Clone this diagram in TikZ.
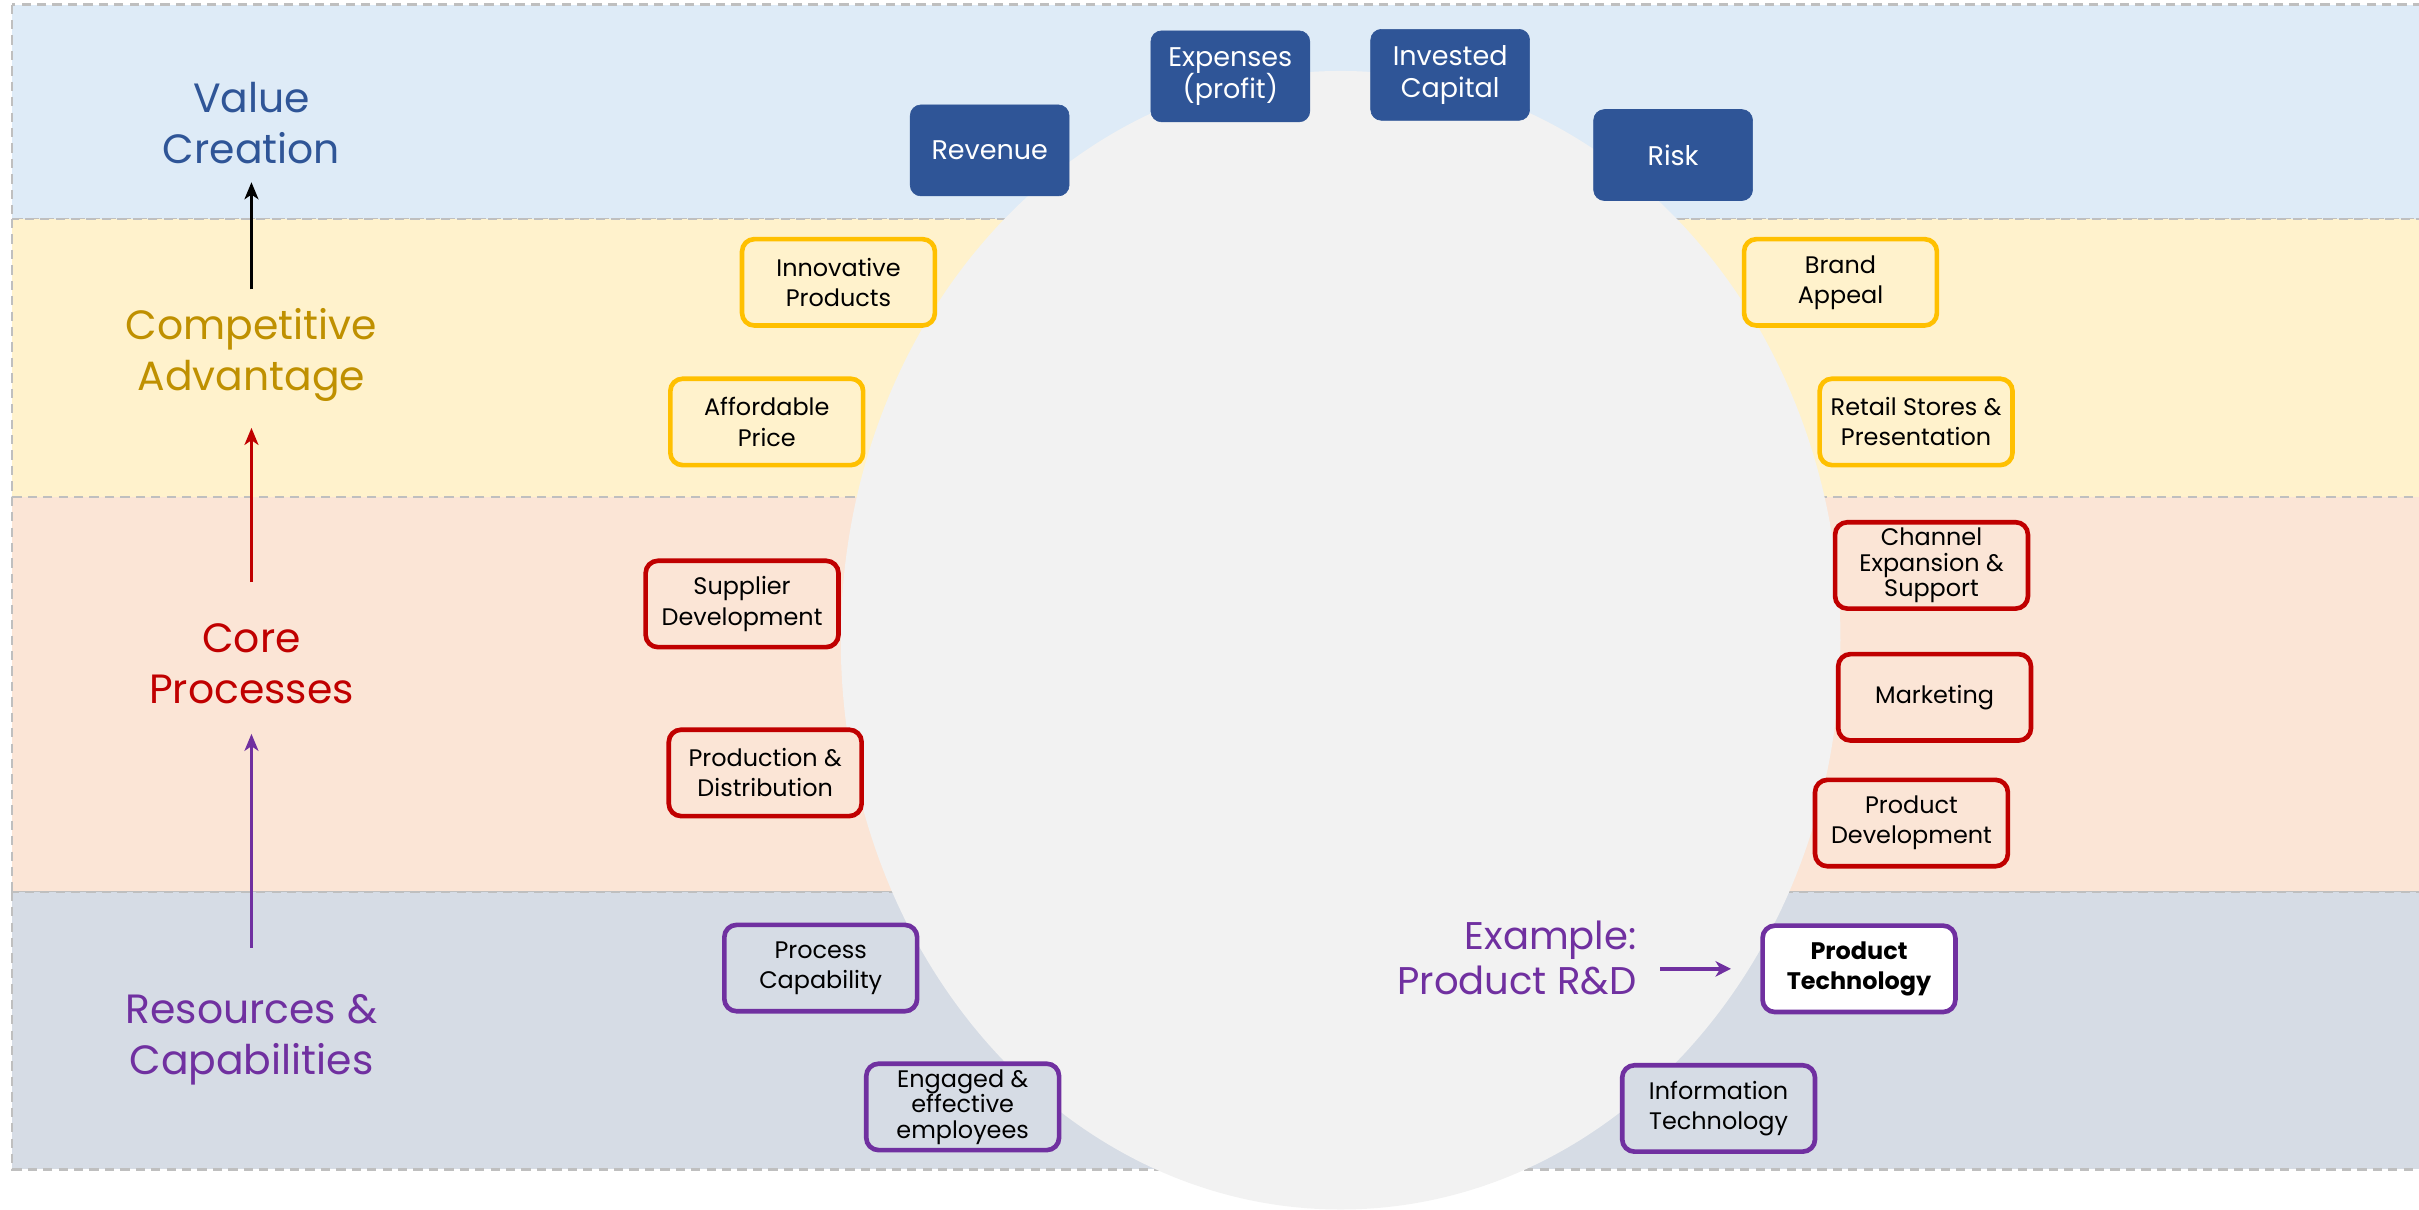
\documentclass[tikz,border=0pt]{standalone}
\usepackage{fontspec}
\setmainfont{Poppins}
\usetikzlibrary{arrows.meta}

\definecolor{bandblue}{HTML}{DEEBF7}
\definecolor{bandyellow}{HTML}{FFF2CC}
\definecolor{bandpeach}{HTML}{FBE5D6}
\definecolor{bandgrey}{HTML}{D6DCE5}
\definecolor{discgrey}{HTML}{F2F2F2}
\definecolor{valueblue}{HTML}{2F5597}
\definecolor{goldtext}{HTML}{BF9000}
\definecolor{goldline}{HTML}{FFC000}
\definecolor{corered}{HTML}{C00000}
\definecolor{respurple}{HTML}{7030A0}
\definecolor{dashgrey}{HTML}{BFBFBF}

\begin{document}
\begin{tikzpicture}[x=1pt,y=-1pt,
  band/.style={draw=dashgrey, line width=1.5pt, dash pattern=on 6pt off 4pt},
  boxtext/.style={align=center, inner sep=0pt, font=\fontsize{15.5}{19.5}\selectfont},
  tight/.style={font=\fontsize{15.5}{16.5}\selectfont},
  valuebox/.style={boxtext, fill=valueblue, draw=valueblue, text=white,
    rounded corners=7pt, minimum width=103pt, minimum height=59pt,
    font=\fontsize{17.5}{21}\selectfont},
  framebox/.style={boxtext, line width=3pt, rounded corners=8pt,
    minimum width=125pt, minimum height=56pt},
  advbox/.style={framebox, draw=goldline, fill=bandyellow},
  procbox/.style={framebox, draw=corered, fill=bandpeach},
  resbox/.style={framebox, draw=respurple, fill=bandgrey},
  levellabel/.style={align=center, inner sep=0pt, font=\fontsize{26.5}{33}\selectfont},
  uparrow/.style={line width=2.5pt, -{Stealth[length=11pt,width=9pt,inset=3pt]}}
]
\useasboundingbox (0,0) rectangle (1568,784);
\clip (0,0) rectangle (1568,784);

% horizontal bands
\filldraw[band, fill=bandblue]   (8,3)   rectangle (1580,142);
\filldraw[band, fill=bandyellow] (8,142) rectangle (1580,322);
\filldraw[band, fill=bandpeach]  (8,322) rectangle (1580,578);
\filldraw[band, fill=bandgrey]   (8,578) rectangle (1580,758);

% central disc
\fill[discgrey] (869,415) ellipse [x radius=324, y radius=369];

% value drivers
\node[valuebox] (revenue)  at (641.5,97.5)  {Revenue};
\node[valuebox] (expenses) at (797.5,49.5)  {Expenses\\(profit)};
\node[valuebox] (capital)  at (940,48.5)    {Invested\\Capital};
\node[valuebox] (risk)     at (1084.5,100.5){Risk};

% competitive advantage
\node[advbox] (innov)  at (543.5,183)  {Innovative\\Products};
\node[advbox] (price)  at (497,273.5)  {Affordable\\Price};
\node[advbox] (brand)  at (1193,183)   {Brand\\Appeal};
\node[advbox] (retail) at (1242,273.5) {Retail Stores \&\\Presentation};

% core processes
\node[procbox] (supplier)  at (481,391.5)  {Supplier\\Development};
\node[procbox] (prod)      at (496,501)    {Production \&\\Distribution};
\node[procbox, tight] (channel) at (1252,366.5) {Channel\\Expansion \&\\Support};
\node[procbox] (marketing) at (1254,452)   {Marketing};
\node[procbox] (proddev)   at (1239,533.5) {Product\\Development};

% resources & capabilities
\node[resbox] (proccap)  at (532,627.5)  {Process\\Capability};
\node[resbox, tight] (engaged) at (624,717.5) {Engaged \&\\effective\\employees};
\node[resbox, fill=white, font=\fontsize{15.5}{19.5}\selectfont\bfseries] (prodtech) at (1205,628) {Product\\Technology};
\node[resbox] (infotech) at (1114,718.5) {Information\\Technology};

% level labels
\node[levellabel, text=valueblue]  (lvalue) at (163,79.5) {Value\\Creation};
\node[levellabel, text=goldtext]   (ladv)   at (163,230)  {Competitive\\Advantage};
\node[levellabel, text=corered]    (lcore)  at (163,430.5){Core\\Processes};
\node[levellabel, text=respurple]  (lres)   at (163,674)  {Resources \&\\Capabilities};

\draw[uparrow, black, shorten <=12pt, shorten >=12pt] (ladv.north) -- (lvalue.south);
\draw[uparrow, corered, shorten <=27pt, shorten >=17pt]  (lcore.north) -- (ladv.south);
\draw[uparrow, respurple, shorten <=30pt, shorten >=19pt] (lres.north) -- (lcore.south);

% example callout
\node[align=right, inner sep=0pt, text=respurple, font=\fontsize{25}{29}\selectfont,
  anchor=east] (example) at (1061,621) {Example:\\Product R\&D};
\draw[respurple, line width=3pt, -{Stealth[length=10pt,width=10pt,inset=3pt]},
  shorten <=15pt, shorten >=19pt] (example.east |- prodtech.west) -- (prodtech.west);

\end{tikzpicture}
\end{document}
